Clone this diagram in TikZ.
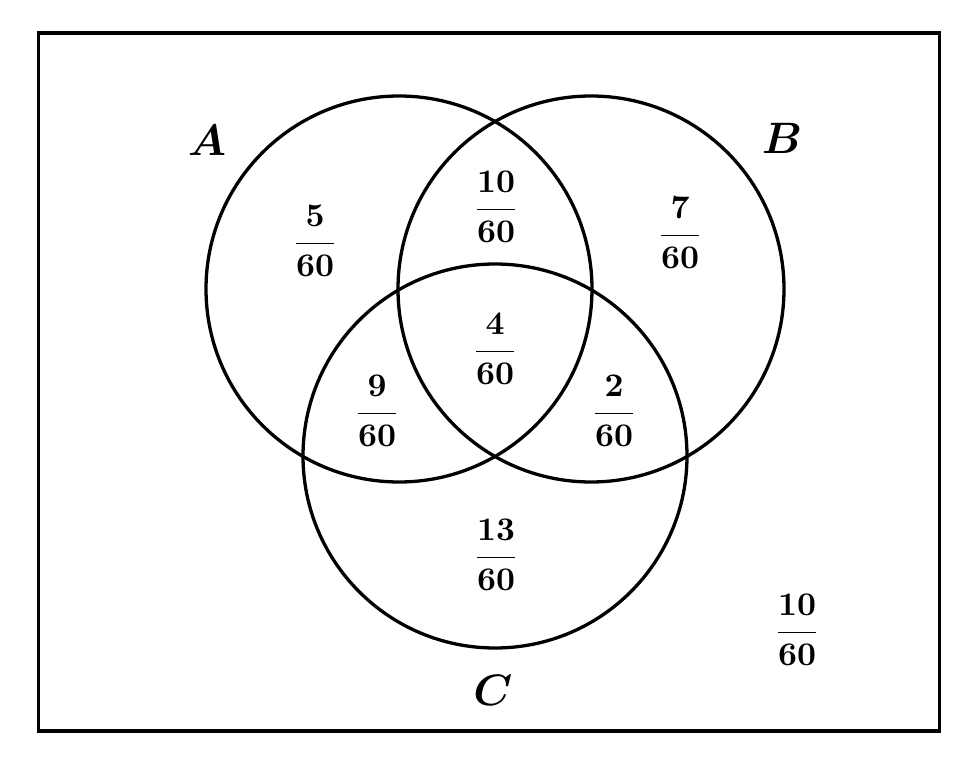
\documentclass[tikz,border=0pt]{standalone}
\usepackage{amsmath,bm}
\begin{document}
\begin{tikzpicture}[x=1pt,y=-1pt,
  venn/.style={draw=black,line width=3.3pt},
  frac/.style={scale=3.3},
  setlabel/.style={scale=4.4}]
\useasboundingbox (0,0) rectangle (980,767);
\node[draw=black,line width=3.3pt,minimum width=901pt,minimum height=698pt,inner sep=0pt] (U) at (489,382) {};
\draw[venn] (399,289) circle[radius=193pt];
\draw[venn] (591,289) circle[radius=193pt];
\draw[venn] (495,456) circle[radius=192pt];
\node[setlabel] (lA) at (207,140) {$\bm{A}$};
\node[setlabel] (lB) at (782,138) {$\bm{B}$};
\node[setlabel] (lC) at (493,690) {$\bm{C}$};
\node[frac] (a) at (315,241) {$\boldsymbol{\dfrac{5}{60}}$};
\node[frac] (ab) at (496,207) {$\boldsymbol{\dfrac{10}{60}}$};
\node[frac] (b) at (680,233) {$\boldsymbol{\dfrac{7}{60}}$};
\node[frac] (abc) at (495,349) {$\boldsymbol{\dfrac{4}{60}}$};
\node[frac] (ac) at (377,411) {$\boldsymbol{\dfrac{9}{60}}$};
\node[frac] (bc) at (614,411) {$\boldsymbol{\dfrac{2}{60}}$};
\node[frac] (c) at (496,555) {$\boldsymbol{\dfrac{13}{60}}$};
\node[frac] (out) at (797,630) {$\boldsymbol{\dfrac{10}{60}}$};
\end{tikzpicture}
\end{document}
